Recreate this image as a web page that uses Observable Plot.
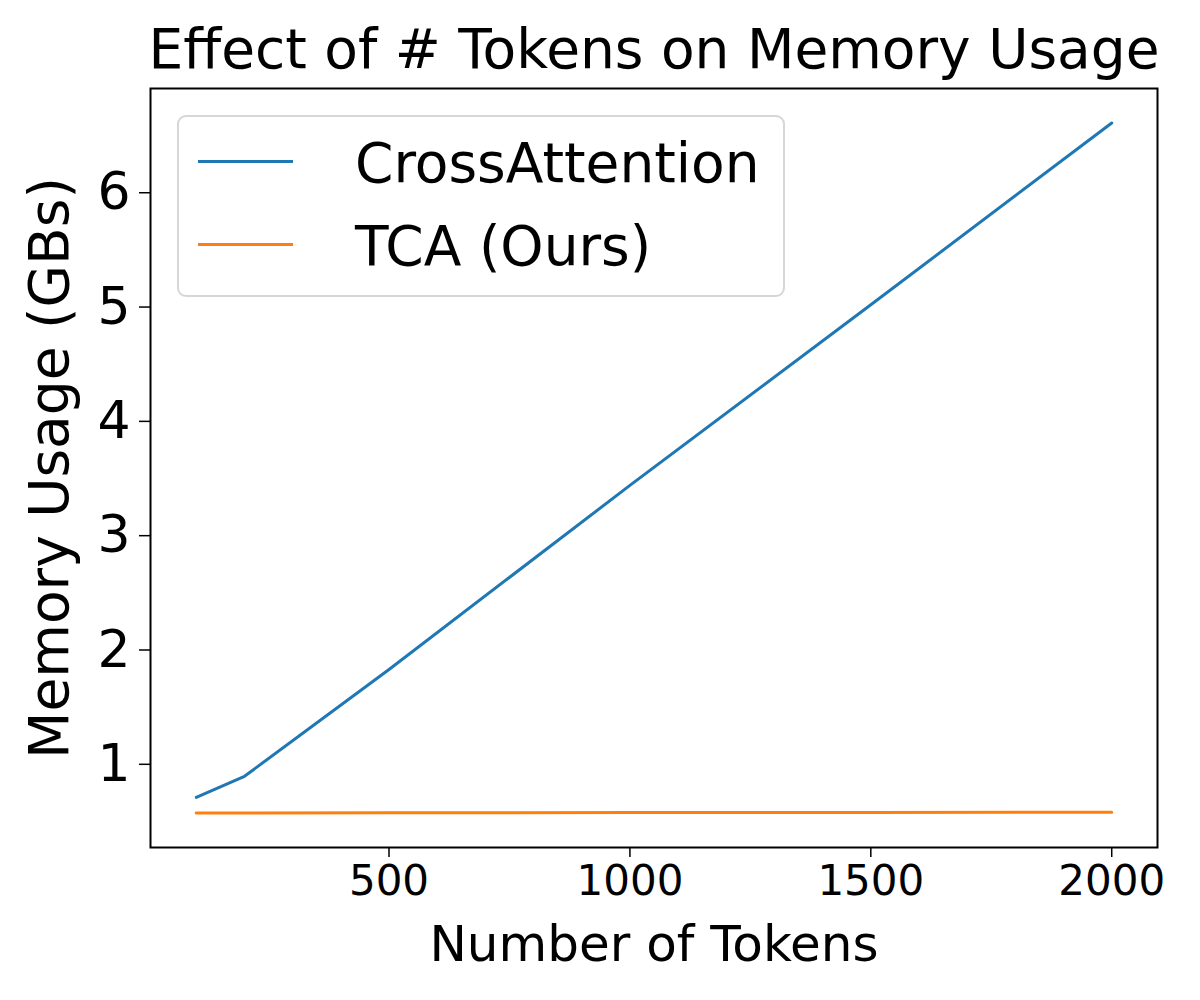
<!DOCTYPE html>
<html>
<head>
<meta charset="utf-8">
<script src="https://cdn.jsdelivr.net/npm/d3@7"></script>
<script src="https://cdn.jsdelivr.net/npm/@observablehq/plot@0.6"></script>
<style>
  html, body { margin: 0; padding: 0; background: #fff; }
  #wrap { position: relative; width: 1200px; height: 1000px; font-family: "DejaVu Sans", sans-serif; }
  #legend { position: absolute; left: 177px; top: 115px; width: 608px; height: 182px;
    border: 2px solid #d6d6d6; border-radius: 9px; background: rgba(255,255,255,0.8); box-sizing: border-box; }
  .swatch { position: absolute; left: 19px; width: 95px; height: 3px; }
  .lab { position: absolute; left: 176px; font-size: 55px; white-space: nowrap; color: #000; line-height: 1; }
</style>
</head>
<body>
<div id="wrap"></div>
<script>
const tokens = [100, 200, 500, 1000, 1500, 2000];
const crossAttention = [0.71, 0.895, 1.83, 3.44, 5.02, 6.61];
const tca = [0.574, 0.575, 0.576, 0.578, 0.579, 0.580];
const seriesNames = ["CrossAttention", "TCA (Ours)"];
const seriesColors = ["#1f77b4", "#ff7f0e"];
const xTicks = [500, 1000, 1500, 2000];
const yTicks = [1, 2, 3, 4, 5, 6];
const title = "Effect of # Tokens on Memory Usage";
const xLabel = "Number of Tokens";
const yLabel = "Memory Usage (GBs)";

const data = [
  ...tokens.map((t, i) => ({tokens: t, mem: crossAttention[i], series: seriesNames[0]})),
  ...tokens.map((t, i) => ({tokens: t, mem: tca[i], series: seriesNames[1]}))
];

const xmin = d3.min(tokens), xmax = d3.max(tokens);
const allY = crossAttention.concat(tca);
const ymin = d3.min(allY), ymax = d3.max(allY);
const xpad = (xmax - xmin) * 0.05, ypad = (ymax - ymin) * 0.05;

const chart = Plot.plot({
  width: 1200,
  height: 1000,
  marginLeft: 150,
  marginRight: 43,
  marginTop: 88,
  marginBottom: 153,
  style: {fontFamily: "DejaVu Sans, sans-serif", color: "#000", background: "#fff", overflow: "visible"},
  x: {domain: [xmin - xpad, xmax + xpad]},
  y: {domain: [ymin - ypad, ymax + ypad]},
  color: {domain: seriesNames, range: seriesColors},
  marks: [
    Plot.line(data, {x: "tokens", y: "mem", z: "series", stroke: "series", strokeWidth: 3}),
    Plot.frame({stroke: "#000", strokeWidth: 2}),
    Plot.axisX({ticks: xTicks, tickSize: 10, tickPadding: 8, fontSize: 42, label: null, strokeWidth: 1.5, tickFormat: d3.format("d")}),
    Plot.axisY({ticks: yTicks, tickSize: 11, tickPadding: 9, fontSize: 52, label: null, strokeWidth: 1.5, tickFormat: d3.format("d")}),
    Plot.text([title], {text: d => d, frameAnchor: "top", dy: -60, fontSize: 55, fill: "#000"}),
    Plot.text([xLabel], {text: d => d, frameAnchor: "bottom", dy: 113, fontSize: 50, fill: "#000"}),
    Plot.text([yLabel], {text: d => d, frameAnchor: "left", textAnchor: "middle", dx: -100, rotate: -90, fontSize: 55, fill: "#000"})
  ]
});

const wrap = document.getElementById("wrap");
wrap.appendChild(chart);

const legend = document.createElement("div");
legend.id = "legend";
seriesNames.forEach((name, i) => {
  const sw = document.createElement("div");
  sw.className = "swatch";
  sw.style.background = seriesColors[i];
  sw.style.top = (43 + i * 83) + "px";
  legend.appendChild(sw);
  const lab = document.createElement("div");
  lab.className = "lab";
  lab.textContent = name;
  lab.style.top = (19 + i * 83) + "px";
  legend.appendChild(lab);
});
wrap.appendChild(legend);
</script>
</body>
</html>
